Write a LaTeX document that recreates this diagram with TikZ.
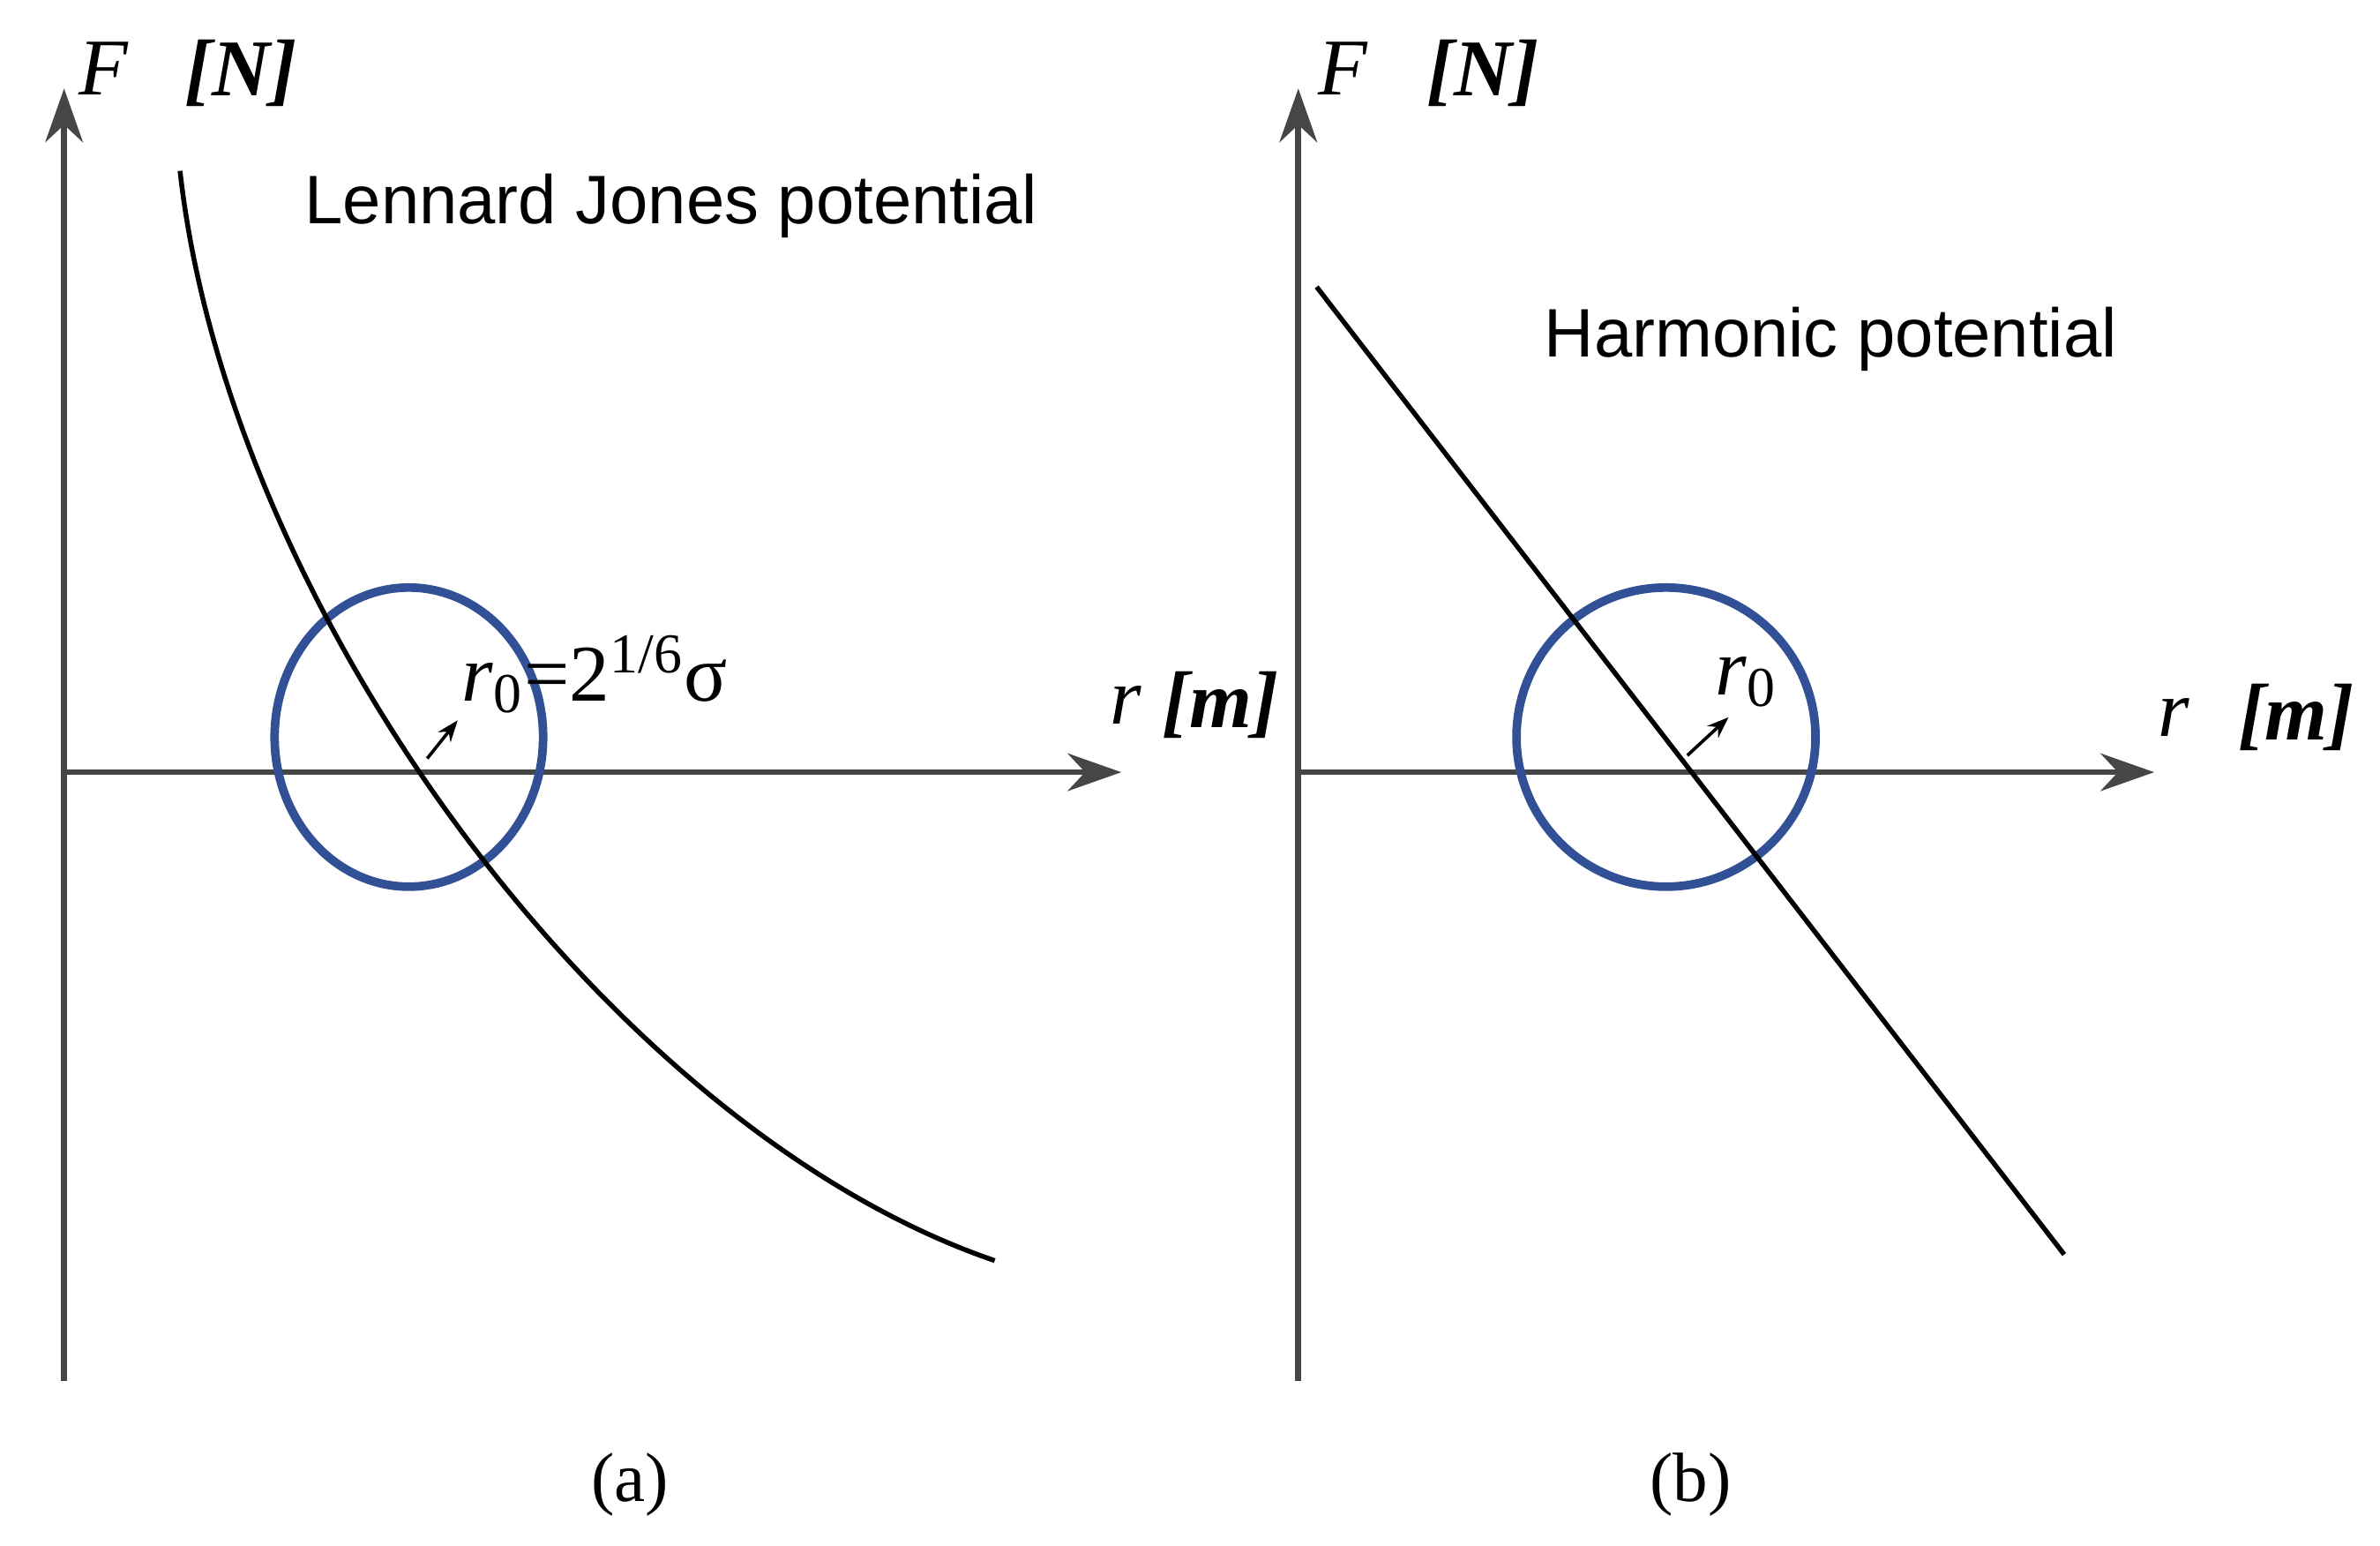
\documentclass[tikz,border=0pt]{standalone}
\usepackage{fontspec}
\setmainfont{Liberation Serif}
\newfontfamily\sansf{Liberation Sans}
\usetikzlibrary{arrows.meta}
\definecolor{axc}{RGB}{70,70,70}
\definecolor{circc}{RGB}{50,80,150}
\begin{document}
\begin{tikzpicture}[x=0.01cm,y=-0.01cm,
  axis/.style={draw=axc,line width=1.1pt,-{Stealth[length=10pt,width=7pt]}},
  circ/.style={draw=circc,line width=1.6pt},
  curve/.style={draw=black,line width=0.9pt},
  small/.style={-{Stealth[length=4pt,width=3pt]},line width=0.6pt},
  lab/.style={font=\fontsize{15}{15}\selectfont\itshape},
  unit/.style={font=\fontsize{15}{15}\selectfont\bfseries\itshape},
  rlab/.style={font=\fontsize{15}{15}\selectfont,inner sep=0pt},
  title/.style={font=\sansf\fontsize{12.8}{12.8}\selectfont},
  caption/.style={font=\fontsize{13}{13}\selectfont}]
\useasboundingbox (0,0) rectangle (1560,1013);
% (a)
\coordinate (ao) at (42,506);
\coordinate (ay) at (42,58);
\coordinate (ax) at (735,506);
\draw[axis] (42,905) -- (ay);
\draw[axis] (ao) -- (ax);
\node[lab] (aF) at (68,45) {F};
\node[unit] (aN) at (158,48) {[N]};
\node[lab] (ar) at (738,462) {r};
\node[unit] (am) at (800,462) {[m]};
\node[title] (at) at (440,135) {Lennard Jones potential};
\draw[circ] (268,483) ellipse [x radius=88,y radius=98];
\coordinate (c1) at (118,112);
\coordinate (c2) at (652,826);
\draw[curve] (c1) .. controls (150,400) and (400,740) .. (c2);
\coordinate (a1) at (280,497);
\node[rlab,anchor=west] (ar0) at (302,442) {\textit{r}\textsubscript{0}=2\textsuperscript{1/6}σ};
\draw[small] (a1) -- (300,472);
\node[caption] (acap) at (413,973) {(a)};
% (b)
\coordinate (bo) at (851,506);
\coordinate (by) at (851,58);
\coordinate (bx) at (1412,506);
\draw[axis] (851,905) -- (by);
\draw[axis] (bo) -- (bx);
\node[lab] (bF) at (880,45) {F};
\node[unit] (bN) at (972,48) {[N]};
\node[lab] (br) at (1425,470) {r};
\node[unit] (bm) at (1505,470) {[m]};
\node[title] (bt) at (1200,222) {Harmonic potential};
\draw[circ] (1092,483) circle [radius=98];
\coordinate (b1) at (863,188);
\coordinate (b2) at (1353,822);
\draw[curve] (b1) -- (b2);
\draw[small] (1106,495) -- (1133,470);
\node[rlab] (br0) at (1145,447) {\textit{r}\textsubscript{0}};
\node[caption] (bcap) at (1108,973) {(b)};
\end{tikzpicture}
\end{document}
